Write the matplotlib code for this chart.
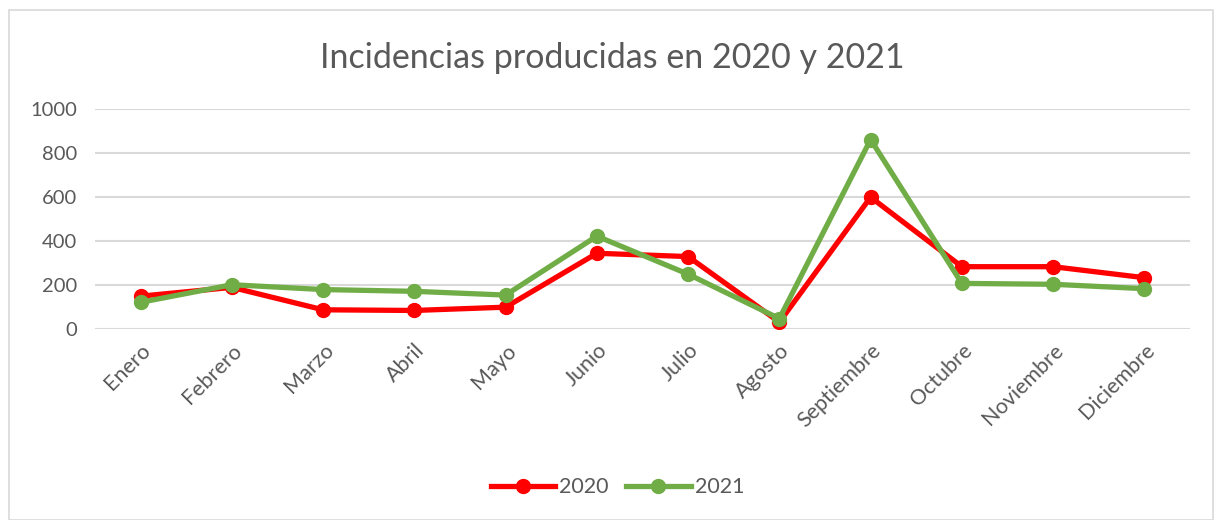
import numpy as np
import matplotlib.pyplot as plt
from matplotlib.patches import Rectangle

plt.rcParams['font.family'] = ['Lato', 'DejaVu Sans']

# Data
meses = ['Enero', 'Febrero', 'Marzo', 'Abril', 'Mayo', 'Junio',
         'Julio', 'Agosto', 'Septiembre', 'Octubre', 'Noviembre', 'Diciembre']
inc_2020 = [150, 190, 88, 85, 100, 345, 330, 32, 600, 284, 284, 234]
inc_2021 = [122, 202, 180, 172, 155, 423, 250, 48, 862, 208, 204, 184]
yticks = [0, 200, 400, 600, 800, 1000]

text_col = '#595959'
grid_col = '#D9D9D9'

fig = plt.figure(figsize=(12.18, 5.2), dpi=100)
ax = fig.add_axes([0.078, 0.367, 0.899, 0.423])

# Outer chart border
fig.patches.append(Rectangle((0.007, 0.0), 0.989, 0.98, transform=fig.transFigure,
                             fill=False, edgecolor=grid_col, linewidth=1.2))

x = np.arange(len(meses))
ax.plot(x, inc_2020, color='#FF0000', lw=3.8, marker='o', markersize=10,
        label='2020', zorder=3)
ax.plot(x, inc_2021, color='#70AD47', lw=3.8, marker='o', markersize=10,
        label='2021', zorder=4)

ax.set_xlim(-0.5, len(meses) - 0.5)
ax.set_ylim(0, 1000)
ax.set_yticks(yticks)
ax.set_yticklabels([str(v) for v in yticks], fontsize=14.5, color=text_col)
ax.set_xticks(x)
ax.set_xticklabels(meses, rotation=45, ha='right', va='top',
                   rotation_mode='anchor', fontsize=15.5, color=text_col)
ax.tick_params(axis='y', length=0, pad=13)
ax.tick_params(axis='x', length=0, pad=8)

ax.yaxis.grid(True, color=grid_col, lw=1.5)
ax.set_axisbelow(True)
for s in ax.spines.values():
    s.set_visible(False)

fig.text(0.503, 0.889, 'Incidencias producidas en 2020 y 2021', ha='center',
         va='center', fontsize=24.5, color=text_col)

fig.legend(loc='center', bbox_to_anchor=(0.507, 0.063), ncol=2, frameon=False,
           fontsize=15.5, labelcolor=text_col, handlelength=3.0, columnspacing=0.8,
           handletextpad=0.2)

fig.savefig('out.png', dpi=100)
